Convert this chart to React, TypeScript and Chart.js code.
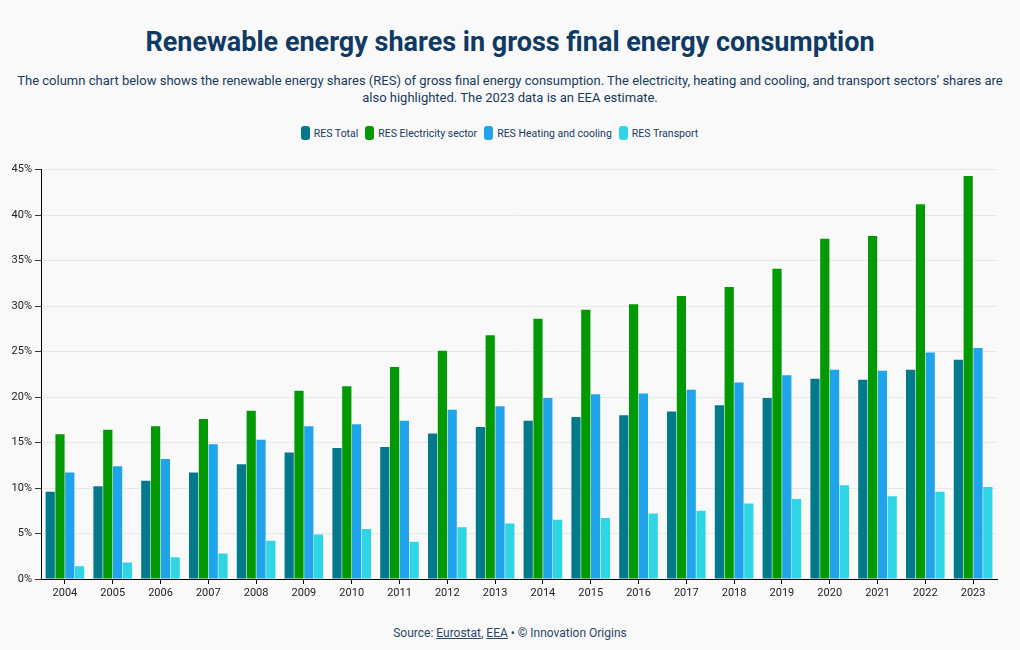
import React, { useEffect, useRef } from "react";
import { Chart, registerables } from "chart.js";

Chart.register(...registerables);

const years = ["2004","2005","2006","2007","2008","2009","2010","2011","2012","2013","2014","2015","2016","2017","2018","2019","2020","2021","2022","2023"];
const resTotal = [9.6,10.2,10.8,11.7,12.6,13.9,14.4,14.5,16.0,16.7,17.4,17.8,18.0,18.4,19.1,19.9,22.0,21.9,23.0,24.1];
const resElectricity = [15.9,16.4,16.8,17.6,18.5,20.7,21.2,23.3,25.1,26.8,28.6,29.6,30.2,31.1,32.1,34.1,37.4,37.7,41.2,44.3];
const resHeating = [11.7,12.4,13.2,14.8,15.3,16.8,17.0,17.4,18.6,19.0,19.9,20.3,20.4,20.8,21.6,22.4,23.0,22.9,24.9,25.4];
const resTransport = [1.4,1.8,2.4,2.8,4.2,4.9,5.5,4.1,5.7,6.1,6.5,6.7,7.2,7.5,8.3,8.8,10.3,9.1,9.6,10.1];
const seriesNames = ["RES Total","RES Electricity sector","RES Heating and cooling","RES Transport"];
const seriesColors = ["#037a8c","#029a03","#1fa3ea","#2ed5e4"];
const yTicks = [0,5,10,15,20,25,30,35,40,45];

const FONT = "Roboto, 'Noto Sans', sans-serif";
const NAVY = "#0f3a64";

export default function App() {
  const canvasRef = useRef<HTMLCanvasElement | null>(null);

  useEffect(() => {
    const prevMargin = document.body.style.margin;
    document.body.style.margin = "0";
    const ctx = canvasRef.current;
    if (!ctx) return;
    const values = [resTotal, resElectricity, resHeating, resTransport];
    const chart = new Chart(ctx, {
      type: "bar",
      data: {
        labels: years,
        datasets: seriesNames.map((name, i) => ({
          label: name,
          data: values[i],
          backgroundColor: seriesColors[i],
          borderWidth: 0,
          barPercentage: 0.94,
          categoryPercentage: 0.82,
        })),
      },
      options: {
        animation: false,
        responsive: true,
        maintainAspectRatio: false,
        layout: { padding: { top: 8, right: 23, left: 0, bottom: 0 } },
        plugins: {
          legend: { display: false },
          tooltip: { enabled: false },
          title: { display: false },
        },
        scales: {
          x: {
            offset: true,
            grid: {
              display: true,
              drawOnChartArea: false,
              offset: false,
              drawTicks: true,
              tickLength: 5,
              tickColor: "#000",
            },
            border: { display: true, color: "#000", width: 1 },
            ticks: {
              color: "#222",
              font: { family: FONT, size: 11 },
              maxRotation: 0,
              autoSkip: false,
              padding: 3,
            },
            afterFit: (s: any) => { s.height = 21; },
          },
          y: {
            min: 0,
            max: 45,
            afterBuildTicks: (s: any) => { s.ticks = yTicks.map((v) => ({ value: v })); },
            ticks: {
              color: "#222",
              font: { family: FONT, size: 11 },
              padding: 3,
              callback: (v: any) => v + "%",
            },
            grid: {
              color: "#e8e8e8",
              tickColor: "#333",
              tickLength: 6,
              lineWidth: 1,
            },
            border: { display: true, color: "#000", width: 1 },
            afterFit: (s: any) => { s.width = 41; },
          },
        },
      },
    });
    return () => {
      chart.destroy();
      document.body.style.margin = prevMargin;
    };
  }, []);

  return (
    <div
      style={{
        position: "absolute",
        left: 0,
        top: 0,
        width: 1020,
        height: 650,
        background: "#f9f9f9",
        fontFamily: FONT,
        overflow: "hidden",
      }}
    >
      <div
        style={{
          position: "absolute",
          top: 24,
          left: 0,
          width: 1020,
          textAlign: "center",
          fontSize: 27,
          fontWeight: 700,
          color: NAVY,
          lineHeight: "36px",
        }}
      >
        Renewable energy shares in gross final energy consumption
      </div>
      <div
        style={{
          position: "absolute",
          top: 72,
          left: 0,
          width: 1020,
          textAlign: "center",
          fontSize: 13,
          color: "#173a5e",
          lineHeight: "17px",
        }}
      >
        The column chart below shows the renewable energy shares (RES) of gross final energy consumption. The electricity, heating and cooling, and transport sectors’ shares are
        <br />
        also highlighted. The 2023 data is an EEA estimate.
      </div>
      <div
        style={{
          position: "absolute",
          top: 126,
          left: 0,
          width: 1006,
          display: "flex",
          justifyContent: "center",
          alignItems: "center",
          fontSize: 10.5,
          color: "#173a5e",
        }}
      >
        {seriesNames.map((n, i) => (
          <div key={n} style={{ display: "flex", alignItems: "center", marginRight: 7 }}>
            <span
              style={{
                display: "inline-block",
                width: 9,
                height: 14,
                borderRadius: 3,
                background: seriesColors[i],
                marginRight: 4,
              }}
            />
            <span>{n}</span>
          </div>
        ))}
      </div>
      <div style={{ position: "absolute", left: 0, top: 160, width: 1020, height: 440 }}>
        <canvas ref={canvasRef} />
      </div>
      <div
        style={{
          position: "absolute",
          top: 625,
          left: 0,
          width: 1020,
          textAlign: "center",
          fontSize: 12,
          color: "#2a4766",
          lineHeight: "16px",
        }}
      >
        Source: <span style={{ textDecoration: "underline" }}>Eurostat</span>,{" "}
        <span style={{ textDecoration: "underline" }}>EEA</span> • © Innovation Origins
      </div>
    </div>
  );
}
